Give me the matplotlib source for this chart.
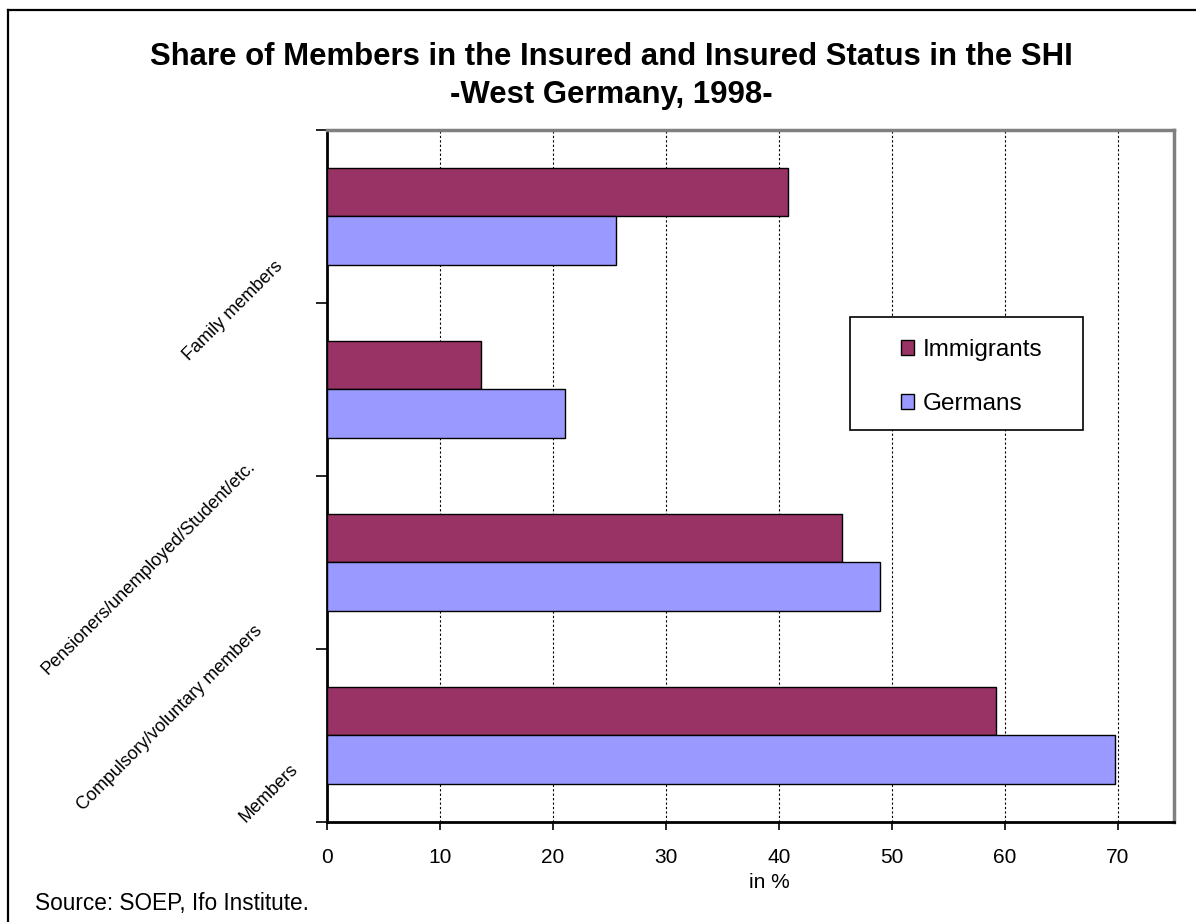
import numpy as np
import matplotlib
matplotlib.use("Agg")
import matplotlib.pyplot as plt
from matplotlib.patches import Rectangle, Patch
from matplotlib.lines import Line2D
from matplotlib.transforms import blended_transform_factory

plt.rcParams["font.family"] = ["Liberation Sans", "DejaVu Sans"]

# data, bottom to top
categories = [
    "Members",
    "Compulsory/voluntary members",
    "Pensioners/unemployed/Student/etc.",
    "Family members",
]
immigrants = [59.2, 45.6, 13.6, 40.8]
germans = [69.8, 49.0, 21.1, 25.6]
series_names = ["Immigrants", "Germans"]
x_ticks = [0, 10, 20, 30, 40, 50, 60, 70]

# label placement tweaks (axes-x, shift in category units) - excel puts them oddly
label_x = [-0.034, -0.076, -0.084, -0.052]
label_shift = [-0.20, -0.40, -0.45, -0.29]

col_imm = "#993366"
col_ger = "#9999FF"

fig = plt.figure(figsize=(11.96, 9.22), dpi=100)
ax = fig.add_axes([0.2734, 0.1085, 0.7082, 0.7505])

y = np.arange(len(categories))
h = 0.283
ax.barh(y + h / 2, immigrants, height=h, color=col_imm, edgecolor="black",
        linewidth=1, label=series_names[0], zorder=3)
ax.barh(y - h / 2, germans, height=h, color=col_ger, edgecolor="black",
        linewidth=1, label=series_names[1], zorder=3)

ax.set_xlim(0, 75)
ax.set_ylim(-0.5, len(categories) - 0.5)
ax.set_xticks(x_ticks)
ax.set_xticklabels([str(v) for v in x_ticks], fontsize=15)
ax.tick_params(axis="x", direction="out", length=6, width=1.2, pad=13)
ax.set_yticks(np.arange(len(categories) + 1) - 0.5)
ax.set_yticklabels([])
ax.tick_params(axis="y", direction="out", length=8, width=1.2)
ax.xaxis.grid(True, color="black", linestyle=(0, (2, 2)), linewidth=0.8, zorder=0)
ax.set_axisbelow(True)

for side in ["left", "bottom"]:
    ax.spines[side].set_color("black")
    ax.spines[side].set_linewidth(2)
for side in ["top", "right"]:
    ax.spines[side].set_color("#808080")
    ax.spines[side].set_linewidth(2.5)

trans = blended_transform_factory(ax.transAxes, ax.transData)
for i, name in enumerate(categories):
    ax.text(label_x[i], y[i] + label_shift[i], name, transform=trans,
            rotation=45, rotation_mode="anchor", ha="right", va="baseline",
            fontsize=13, clip_on=False)

# legend with a plain box
leg = ax.legend(
    handles=[Patch(facecolor=col_imm, edgecolor="black", label=series_names[0]),
             Patch(facecolor=col_ger, edgecolor="black", label=series_names[1])],
    loc="upper left", bbox_to_anchor=(0.663, 0.715), frameon=False,
    fontsize=17.5, handlelength=0.55, handleheight=0.55, handletextpad=0.35,
    labelspacing=1.3, borderpad=0,
)
ax.add_patch(Rectangle((0.6175, 0.566), 0.275, 0.1635, transform=ax.transAxes,
                       facecolor="white", edgecolor="black", linewidth=1.2,
                       zorder=4, clip_on=False))
leg.set_zorder(5)

# titles and notes
fig.text(0.511, 0.938, "Share of Members in the Insured and Insured Status in the SHI",
         ha="center", va="center", fontsize=22.4, fontweight="bold")
fig.text(0.511, 0.897, "-West Germany, 1998-", ha="center", va="center",
         fontsize=22.4, fontweight="bold")
fig.text(0.643, 0.0423, "in %", ha="center", va="center", fontsize=15)
fig.text(0.029, 0.0206, "Source: SOEP, Ifo Institute.", ha="left", va="center",
         fontsize=16.3)

# outer frame (only top and left visible in the crop)
fig.add_artist(Line2D([0.0067, 0.0067], [-0.1, 0.989], transform=fig.transFigure,
                      color="black", linewidth=1.6))
fig.add_artist(Line2D([0.0067, 1.1], [0.989, 0.989], transform=fig.transFigure,
                      color="black", linewidth=1.6))

fig.savefig("out.png", dpi=100)
